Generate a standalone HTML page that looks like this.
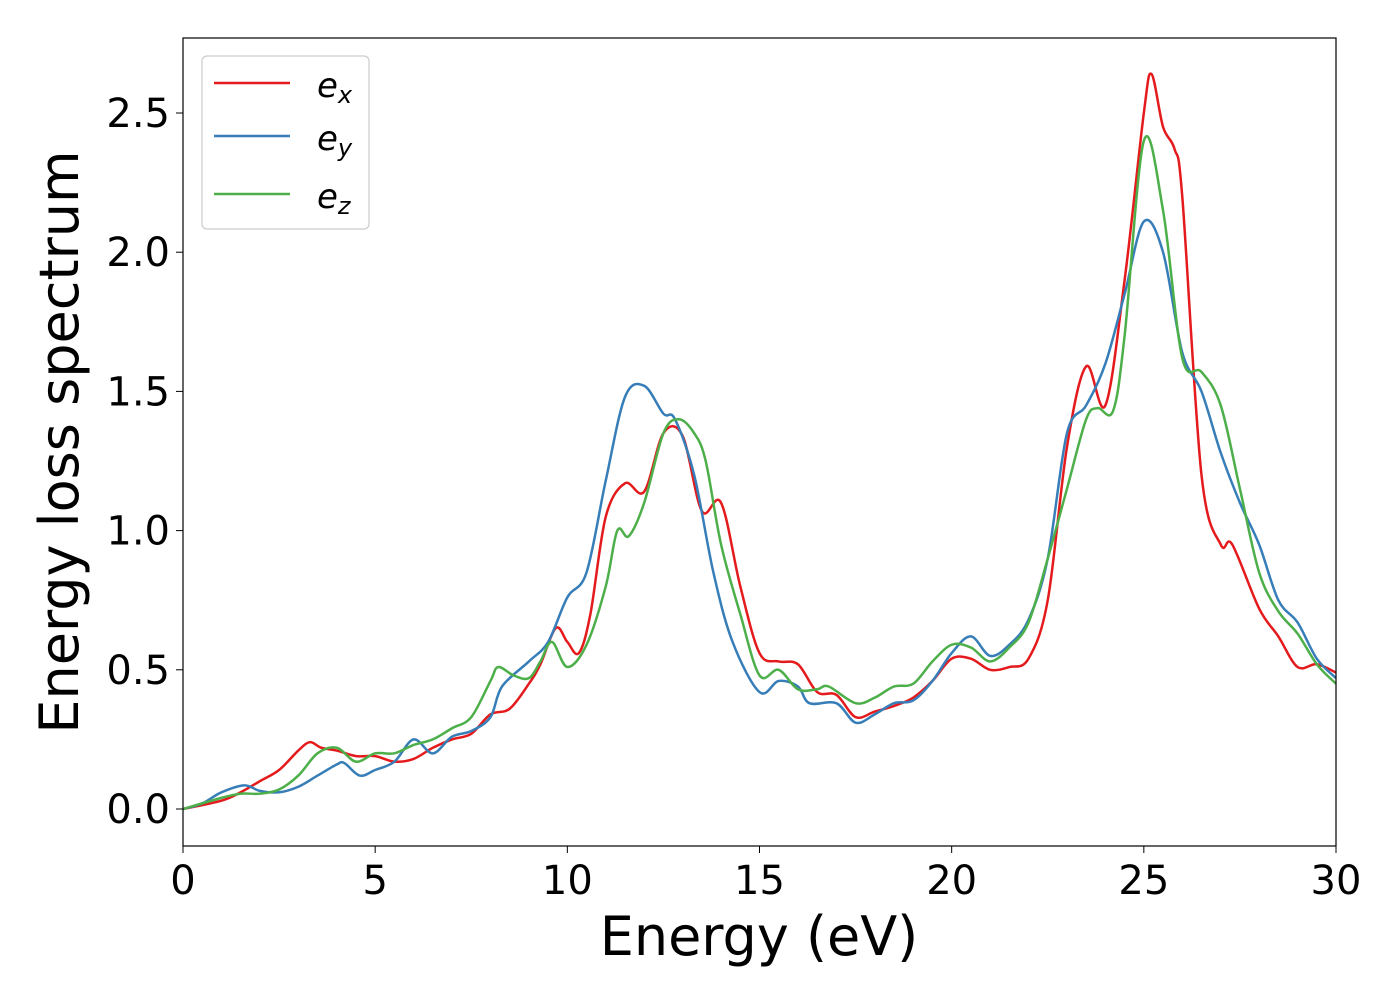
<!DOCTYPE html>
<html><head><meta charset="utf-8"><style>
body{margin:0;background:#fff}
svg{display:block;font-family:"DejaVu Sans","Liberation Sans",sans-serif}
</style></head><body>
<svg id="chart" width="1400" height="1000" viewBox="0 0 1400 1000">
<rect width="1400" height="1000" fill="#fff"/>
<g id="plot"></g>
<rect x="183" y="38" width="1153" height="808" fill="none" stroke="#000" stroke-width="1.2"/>
<g id="xticks"></g>
<g id="yticks"></g>
<text x="759" y="955" font-size="54" text-anchor="middle">Energy (eV)</text>
<text transform="translate(78,442) rotate(-90)" font-size="54" text-anchor="middle">Energy loss spectrum</text>
<g>
<rect x="202" y="56" width="167" height="173" rx="5" fill="#fff" stroke="#ccc" stroke-width="1.2" fill-opacity="0.8"/>
<line x1="214" y1="83" x2="290" y2="83" stroke="#e41a1c" stroke-width="2.5"/>
<line x1="214" y1="136" x2="290" y2="136" stroke="#377eb8" stroke-width="2.5"/>
<line x1="214" y1="194" x2="290" y2="194" stroke="#4daf4a" stroke-width="2.5"/>
<text x="317" y="97" font-size="34" font-style="italic">e<tspan font-size="24" dy="6">x</tspan></text>
<text x="317" y="150" font-size="34" font-style="italic">e<tspan font-size="24" dy="6">y</tspan></text>
<text x="317" y="208" font-size="34" font-style="italic">e<tspan font-size="24" dy="6">z</tspan></text>
</g>
</svg>
<script>
const xTicks=[0,5,10,15,20,25,30];
const yTicks=[0.0,0.5,1.0,1.5,2.0,2.5];
const exE=[0,1,1.5,2,2.5,3,3.3,3.6,4,4.5,5,5.5,6,6.5,7,7.5,8,8.5,9,9.3,9.7,10,10.3,10.6,11,11.5,12,12.5,13,13.5,14,14.5,15,15.5,16,16.5,17,17.5,18,18.5,19,19.5,20,20.5,21,21.5,22,22.5,23,23.5,24,24.5,25,25.2,25.5,25.8,26,26.5,27,27.3,28,28.5,29,29.5,30];
const exV=[0,0.03,0.06,0.1,0.14,0.21,0.24,0.22,0.21,0.19,0.19,0.17,0.18,0.22,0.25,0.27,0.34,0.36,0.45,0.52,0.65,0.6,0.56,0.7,1.05,1.17,1.14,1.35,1.34,1.07,1.1,0.8,0.56,0.53,0.52,0.42,0.41,0.33,0.35,0.37,0.4,0.46,0.54,0.54,0.5,0.51,0.54,0.75,1.3,1.59,1.45,1.9,2.5,2.64,2.45,2.37,2.2,1.2,0.95,0.95,0.72,0.62,0.51,0.52,0.49];
const eyE=[0,0.5,1,1.6,2,2.5,3,3.5,4,4.2,4.6,5,5.5,6,6.5,7,7.5,8,8.3,9,9.5,10,10.5,11,11.5,12,12.5,12.8,13.3,13.8,14.3,15,15.5,16,16.3,17,17.5,18,18.5,19,19.5,20,20.5,21,21.5,22,22.5,23,23.5,24,24.5,25,25.5,26,26.5,27,27.5,28,28.5,29,29.5,30];
const eyV=[0,0.02,0.06,0.085,0.065,0.06,0.08,0.12,0.16,0.165,0.12,0.14,0.17,0.25,0.2,0.26,0.28,0.33,0.44,0.53,0.6,0.76,0.85,1.18,1.48,1.52,1.42,1.4,1.2,0.85,0.6,0.42,0.46,0.44,0.38,0.38,0.31,0.34,0.38,0.39,0.46,0.56,0.62,0.55,0.59,0.68,0.9,1.35,1.45,1.6,1.85,2.11,2.0,1.64,1.5,1.28,1.1,0.95,0.75,0.67,0.54,0.47];
const ezE=[0,1,1.5,2,2.5,3,3.5,4,4.5,5,5.5,6,6.5,7,7.5,8,8.2,8.6,9,9.3,9.6,10,10.5,11,11.3,11.6,12,12.5,12.9,13.3,13.6,14,14.5,15,15.5,16,16.5,16.8,17.5,18,18.5,19,19.5,20,20.5,21,21.5,22,22.5,23,23.5,23.8,24.2,24.5,25,25.5,26,26.5,27,27.5,28,28.5,29,29.5,30];
const ezV=[0,0.04,0.055,0.055,0.07,0.12,0.2,0.22,0.17,0.2,0.2,0.23,0.25,0.29,0.33,0.46,0.51,0.48,0.47,0.53,0.6,0.51,0.59,0.8,1.0,0.98,1.1,1.35,1.4,1.35,1.25,0.95,0.7,0.48,0.5,0.43,0.43,0.44,0.38,0.4,0.44,0.45,0.53,0.59,0.58,0.53,0.58,0.67,0.9,1.15,1.4,1.44,1.43,1.7,2.4,2.15,1.62,1.57,1.45,1.15,0.85,0.71,0.63,0.52,0.45];
const NS="http://www.w3.org/2000/svg";
function xs(e){return 183+(e/30)*1153;}
function ys(v){return 809-v*278.4;}
function path(E,V){
  const p=E.map((e,i)=>[xs(e),ys(V[i])]);
  let d="M"+p[0][0]+","+p[0][1];
  for(let i=0;i<p.length-1;i++){
    const p0=p[Math.max(0,i-1)],p1=p[i],p2=p[i+1],p3=p[Math.min(p.length-1,i+2)];
    const c1=[p1[0]+(p2[0]-p0[0])/6,p1[1]+(p2[1]-p0[1])/6];
    const c2=[p2[0]-(p3[0]-p1[0])/6,p2[1]-(p3[1]-p1[1])/6];
    d+=" C"+c1+" "+c2+" "+p2;
  }
  return d;
}
const plot=document.getElementById('plot');
[[exE,exV,'#e41a1c','series-ex'],[eyE,eyV,'#377eb8','series-ey'],[ezE,ezV,'#4daf4a','series-ez']].forEach(s=>{
  const el=document.createElementNS(NS,'path');
  el.setAttribute('d',path(s[0],s[1]));
  el.setAttribute('fill','none');el.setAttribute('stroke',s[2]);el.setAttribute('stroke-width','2.5');
  
  
  plot.appendChild(el);
});
const xg=document.getElementById('xticks');
xTicks.forEach(t=>{
  const l=document.createElementNS(NS,'line');
  l.setAttribute('x1',xs(t));l.setAttribute('x2',xs(t));l.setAttribute('y1',846);l.setAttribute('y2',853);l.setAttribute('stroke','#000');
  
  
  xg.appendChild(l);
  const tx=document.createElementNS(NS,'text');
  tx.setAttribute('x',xs(t));tx.setAttribute('y',894);tx.setAttribute('font-size','40');tx.setAttribute('text-anchor','middle');
  tx.textContent=t;
  
  
  xg.appendChild(tx);
});
const yg=document.getElementById('yticks');
yTicks.forEach(t=>{
  const l=document.createElementNS(NS,'line');
  l.setAttribute('x1',176);l.setAttribute('x2',183);l.setAttribute('y1',ys(t));l.setAttribute('y2',ys(t));l.setAttribute('stroke','#000');
  
  
  yg.appendChild(l);
  const tx=document.createElementNS(NS,'text');
  tx.setAttribute('x',170);tx.setAttribute('y',ys(t)+14);tx.setAttribute('font-size','40');tx.setAttribute('text-anchor','end');
  tx.textContent=t.toFixed(1);
  
  
  yg.appendChild(tx);
});
</script>
</body></html>
